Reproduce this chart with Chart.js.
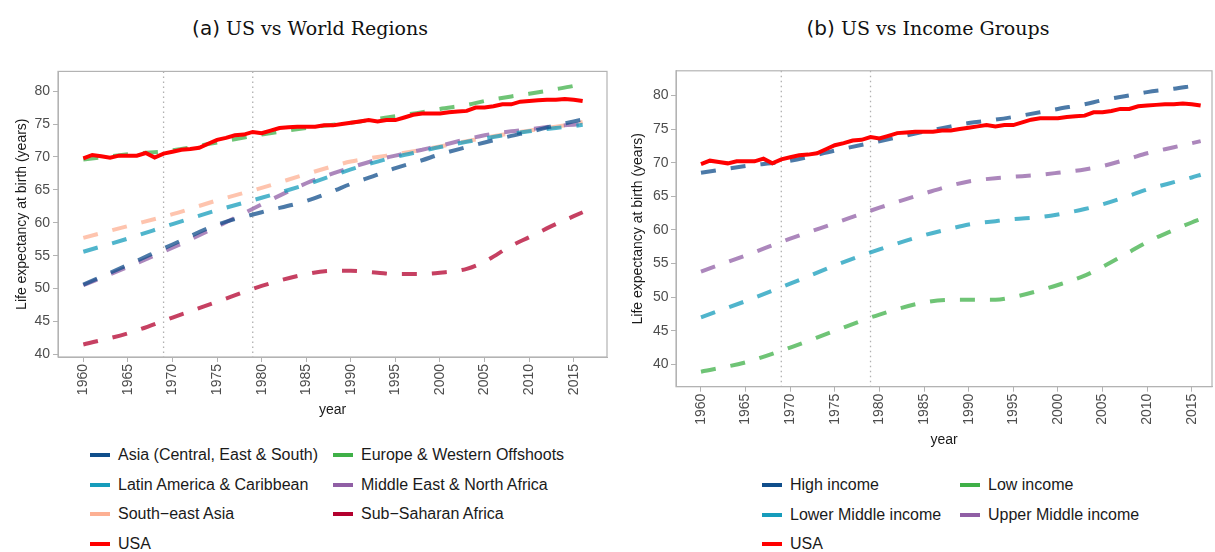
<!DOCTYPE html>
<html>
<head>
<meta charset="utf-8">
<script src="https://cdn.jsdelivr.net/npm/chart.js@4"></script>
<style>
  body { margin: 0; background: #fff; width: 1215px; height: 552px; position: relative; overflow: hidden;
         font-family: "Liberation Sans", Arial, sans-serif; }
  .title { position: absolute; top: 16px; line-height: 24px; transform: translateX(-50%); white-space: nowrap;
           font-family: "DejaVu Serif", serif; font-size: 19px; color: #111; }
  .title .tag { font-family: "DejaVu Sans", sans-serif; font-size: 20px; }
  canvas { position: absolute; }
  .item { position: absolute; white-space: nowrap; height: 20px; line-height: 20px; font-size: 16px; color: #1a1a1a; }
  .key { position: absolute; left: 0; top: 8px; width: 20px; height: 4px; }
  .lbl { position: absolute; left: 28px; top: 0; }
</style>
</head>
<body>
<div class="title" style="left:310px"><span class="tag">(a)</span> US vs World Regions</div>
<div class="title" style="left:928px"><span class="tag">(b)</span> US vs Income Groups</div>
<canvas id="regions" width="615" height="380" style="left:0;top:60px"></canvas>
<canvas id="income" width="600" height="400" style="left:615px;top:60px"></canvas>
<div id="legendA"></div>
<div id="legendB"></div>
<script>
// yearly US series
var usYears = [1960,1961,1962,1963,1964,1965,1966,1967,1968,1969,1970,1971,1972,1973,1974,1975,1976,1977,1978,1979,
  1980,1981,1982,1983,1984,1985,1986,1987,1988,1989,1990,1991,1992,1993,1994,1995,1996,1997,1998,1999,
  2000,2001,2002,2003,2004,2005,2006,2007,2008,2009,2010,2011,2012,2013,2014,2015,2016];
var usa = [69.8,70.3,70.1,69.9,70.2,70.2,70.2,70.6,69.9,70.5,70.8,71.1,71.2,71.4,72.0,72.6,72.9,73.3,73.4,73.8,
  73.6,74.0,74.4,74.5,74.6,74.6,74.6,74.8,74.8,75.0,75.2,75.4,75.6,75.4,75.6,75.6,76.0,76.4,76.6,76.6,
  76.6,76.8,76.9,77.0,77.5,77.5,77.7,78.0,78.0,78.4,78.5,78.6,78.7,78.7,78.8,78.7,78.5];

// smooth group series, read at these years
var groupYears = [1960,1965,1970,1975,1980,1985,1988,1990,1993,1995,1998,2000,2003,2005,2008,2010,2013,2015,2016];

var asia      = [50.6,53.6,56.7,59.7,61.6,63.3,64.8,65.9,67.3,68.3,69.5,70.4,71.5,72.2,73.2,73.8,74.8,75.4,75.7];
var europe    = [69.6,70.4,71.0,72.2,73.4,74.4,74.9,75.2,75.8,76.2,76.8,77.3,77.9,78.5,79.2,79.6,80.3,80.8,81.1];
var latam     = [55.6,57.6,59.8,61.9,63.8,65.8,67.2,68.1,69.3,70.0,70.9,71.5,72.3,72.8,73.5,73.9,74.4,74.7,74.9];
var mena      = [50.5,53.3,56.2,59.4,62.8,66.0,67.5,68.4,69.6,70.2,71.1,71.7,72.7,73.3,73.9,74.2,74.7,74.9,75.0];
var seAsia    = [57.7,59.5,61.3,63.4,65.3,67.4,68.6,69.3,70.0,70.4,71.1,71.6,72.4,72.9,73.6,74.0,74.6,75.0,75.3];
var ssAfrica  = [41.5,43.2,45.6,48.0,50.4,52.2,52.7,52.7,52.4,52.2,52.2,52.4,53.0,54.1,56.5,57.8,59.8,61.0,61.6];

var highInc   = [68.5,69.5,70.3,71.8,73.2,74.6,75.4,75.9,76.4,76.8,77.5,78.0,78.7,79.3,80.0,80.5,81.0,81.4,81.6];
var lowInc    = [38.9,40.3,42.5,45.0,47.4,49.2,49.6,49.6,49.6,50.0,51.0,51.8,53.2,54.5,56.7,58.2,60.0,61.1,61.6];
var lowerMid  = [47.0,49.4,52.0,54.7,57.1,59.2,60.2,60.8,61.3,61.6,61.9,62.3,63.1,63.8,65.1,66.0,67.1,67.8,68.2];
var upperMid  = [53.8,56.2,58.7,61.0,63.3,65.4,66.6,67.2,67.7,67.9,68.2,68.5,69.0,69.5,70.6,71.4,72.3,72.9,73.2];

var regionNames = ['Asia (Central, East & South)', 'Europe & Western Offshoots', 'Latin America & Caribbean',
  'Middle East & North Africa', 'South\u2212east Asia', 'Sub\u2212Saharan Africa', 'USA'];
var regionColors = ['#104e8b', '#3fb048', '#169cbb', '#905fa5', '#fdb093', '#b3002e', '#ff0000'];
var regionData = [asia, europe, latam, mena, seAsia, ssAfrica, usa];

var incomeNames = ['High income', 'Low income', 'Lower Middle income', 'Upper Middle income', 'USA'];
var incomeColors = ['#104e8b', '#3fb048', '#169cbb', '#905fa5', '#ff0000'];
var incomeData = [highInc, lowInc, lowerMid, upperMid, usa];

var yearTicks = [1960,1965,1970,1975,1980,1985,1990,1995,2000,2005,2010,2015];
var lifeTicks = [40,45,50,55,60,65,70,75,80];
var eventYears = [1969, 1979];

var FONT = '"Liberation Sans", Arial, sans-serif';

function fade(hex) {
  var r = parseInt(hex.substr(1,2),16), g = parseInt(hex.substr(3,2),16), b = parseInt(hex.substr(5,2),16);
  return 'rgba(' + r + ',' + g + ',' + b + ',0.75)';
}

var framePlugin = {
  id: 'frame',
  beforeDatasetsDraw: function(chart) {
    var ctx = chart.ctx, a = chart.chartArea, xs = chart.scales.x;
    ctx.save();
    ctx.strokeStyle = '#b0b0b0';
    ctx.lineWidth = 1.3;
    ctx.setLineDash([1.5, 3.5]);
    eventYears.forEach(function(yr) {
      var x = xs.getPixelForValue(yr);
      ctx.beginPath(); ctx.moveTo(x, a.top); ctx.lineTo(x, a.bottom); ctx.stroke();
    });
    ctx.setLineDash([]);
    ctx.strokeStyle = '#b3b3b3';
    ctx.lineWidth = 1.2;
    ctx.strokeRect(a.left, a.top, a.right - a.left, a.bottom - a.top);
    ctx.restore();
  }
};

function makeChart(id, names, colors, series, opt) {
  var datasets = series.map(function(vals, i) {
    var isUS = names[i] === 'USA';
    var xs = isUS ? usYears : groupYears;
    return {
      label: names[i],
      data: vals.map(function(v, j) { return {x: xs[j], y: v}; }),
      borderColor: isUS ? colors[i] : fade(colors[i]),
      borderWidth: 4,
      borderDash: isUS ? [] : [15, 15],
      borderCapStyle: 'butt',
      pointRadius: 0,
      tension: 0,
      cubicInterpolationMode: isUS ? 'default' : 'monotone',
      fill: false,
      order: isUS ? 0 : 1
    };
  });
  var tickFont = {size: 14, family: FONT};
  return new Chart(document.getElementById(id), {
    type: 'line',
    data: {datasets: datasets},
    options: {
      responsive: false,
      animation: false,
      devicePixelRatio: 1,
      events: [],
      layout: {padding: {top: 7, right: opt.padRight, left: 0, bottom: 0}},
      plugins: {legend: {display: false}, tooltip: {enabled: false}},
      scales: {
        x: {
          type: 'linear', min: opt.xMin, max: opt.xMax,
          afterBuildTicks: function(s) { s.ticks = yearTicks.map(function(v) { return {value: v}; }); },
          afterFit: function(s) { s.height = opt.xH; },
          ticks: {color: '#4d4d4d', font: tickFont, minRotation: 90, maxRotation: 90, padding: 2, autoSkip: false,
                  callback: function(v) { return String(v); }},
          grid: {drawOnChartArea: false, drawTicks: true, tickLength: 5, color: '#b3b3b3'},
          border: {display: true, color: '#b3b3b3'},
          title: {display: true, text: 'year', color: '#1a1a1a', font: tickFont, padding: {top: 0, bottom: opt.xTitlePad}}
        },
        y: {
          min: opt.yMin, max: opt.yMax,
          afterBuildTicks: function(s) { s.ticks = lifeTicks.map(function(v) { return {value: v}; }); },
          afterFit: function(s) { s.width = opt.yW; },
          ticks: {color: '#4d4d4d', font: tickFont, padding: opt.yTickPad},
          grid: {drawOnChartArea: false, drawTicks: true, tickLength: 5, color: '#b3b3b3'},
          border: {display: true, color: '#b3b3b3'},
          title: {display: true, text: 'Life expectancy at birth (years)', color: '#1a1a1a', font: tickFont,
                  padding: {top: opt.yTitlePad, bottom: 0}}
        }
      }
    },
    plugins: [framePlugin]
  });
}

makeChart('regions', regionNames, regionColors, regionData,
  {xMin: 1957.16, xMax: 2018.73, yMin: 39.6, yMax: 83.0, padRight: 8, xH: 83, yW: 58, xTitlePad: 21, yTitlePad: 13.6, yTickPad: 3});
makeChart('income', incomeNames, incomeColors, incomeData,
  {xMin: 1957.2, xMax: 2017.27, yMin: 36.67, yMax: 83.67, padRight: 3, xH: 73.3, yW: 61, xTitlePad: 11.6, yTitlePad: 14.9, yTickPad: 2.4});

function makeLegend(id, names, colors, left, top, colGap) {
  var box = document.getElementById(id);
  names.forEach(function(n, i) {
    var row = Math.floor(i / 2), col = i % 2;
    var it = document.createElement('div');
    it.className = 'item';
    it.style.left = (left + col * colGap) + 'px';
    it.style.top = (top + row * 29.7) + 'px';
    it.innerHTML = '<div class="key" style="background:' + colors[i] + '"></div><span class="lbl"></span>';
    it.querySelector('.lbl').textContent = n;
    box.appendChild(it);
  });
}
makeLegend('legendA', regionNames, regionColors, 90, 445, 243);
makeLegend('legendB', incomeNames, incomeColors, 762, 475, 198);
</script>
</body>
</html>
